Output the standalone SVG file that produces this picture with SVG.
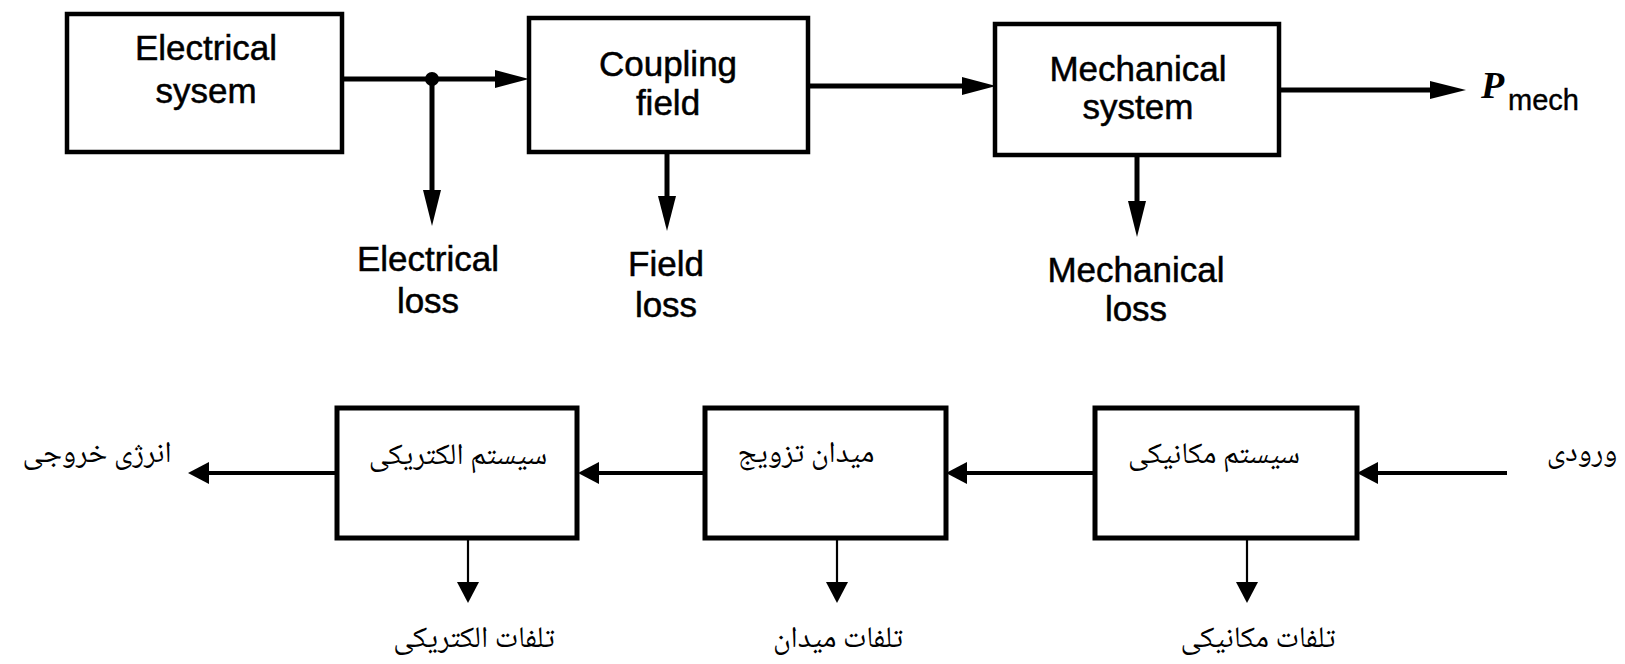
<svg xmlns="http://www.w3.org/2000/svg" width="1625" height="664" viewBox="0 0 1625 664">
<style>
.box{fill:#fff;stroke:#000;stroke-width:4.5}
.boxb{fill:#fff;stroke:#000;stroke-width:5}
.en{font-family:"Liberation Sans",Arial,sans-serif;font-size:35px;fill:#000;stroke:#000;stroke-width:0.5;text-anchor:middle}
.fa{font-family:"Noto Naskh Arabic","Noto Sans Arabic","DejaVu Sans",serif;font-size:30px;fill:#000;text-anchor:middle}
.wire{stroke:#000;stroke-width:5;fill:none}
.wireb{stroke:#000;stroke-width:4;fill:none}
.thin{stroke:#000;stroke-width:2.2;fill:none}
.head{fill:#000}
</style>
<rect width="1625" height="664" fill="#fff"/>
<g id="connectors">
  <line class="wire" x1="342" y1="79" x2="500" y2="79"/>
  <polygon class="head" points="529,79 495,70 495,88"/>
  <circle cx="432" cy="79" r="7"/>
  <line class="wire" x1="432" y1="79" x2="432" y2="195"/>
  <polygon class="head" points="432,226 423,190 441,190"/>
  <line class="wire" x1="808" y1="86" x2="966" y2="86"/>
  <polygon class="head" points="996,86 962,77 962,95"/>
  <line class="wire" x1="667" y1="152" x2="667" y2="200"/>
  <polygon class="head" points="667,231 658,196 676,196"/>
  <line class="wire" x1="1279" y1="90" x2="1435" y2="90"/>
  <polygon class="head" points="1466,90 1430,81 1430,99"/>
  <line class="wire" x1="1137" y1="155" x2="1137" y2="205"/>
  <polygon class="head" points="1137,237 1128,201 1146,201"/>
  <line class="wireb" x1="1507" y1="473" x2="1370" y2="473"/>
  <polygon class="head" points="1357,473 1378,462 1378,484"/>
  <line class="wireb" x1="1095" y1="473" x2="958" y2="473"/>
  <polygon class="head" points="946,473 967,462 967,484"/>
  <line class="wireb" x1="705" y1="473" x2="590" y2="473"/>
  <polygon class="head" points="578,473 599,462 599,484"/>
  <line class="wireb" x1="337" y1="473" x2="200" y2="473"/>
  <polygon class="head" points="188,473 209,462 209,484"/>
  <line class="thin" x1="468" y1="538" x2="468" y2="585"/>
  <polygon class="head" points="468,603 457,582 479,582"/>
  <line class="thin" x1="837" y1="538" x2="837" y2="585"/>
  <polygon class="head" points="837,603 826,582 848,582"/>
  <line class="thin" x1="1247" y1="538" x2="1247" y2="585"/>
  <polygon class="head" points="1247,603 1236,582 1258,582"/>
</g>
<g id="electrical-system">
  <rect class="box" x="67" y="14" width="275" height="138"/>
  <text class="en" x="206" y="60">Electrical</text>
  <text class="en" x="206" y="103">sysem</text>
</g>
<g id="coupling-field">
  <rect class="box" x="529" y="18" width="279" height="134"/>
  <text class="en" x="668" y="76">Coupling</text>
  <text class="en" x="668" y="115">field</text>
</g>
<g id="mechanical-system">
  <rect class="box" x="995" y="24" width="284" height="131"/>
  <text class="en" x="1138" y="81">Mechanical</text>
  <text class="en" x="1138" y="119">system</text>
</g>
<g id="electrical-loss">
  <text class="en" x="428" y="271">Electrical</text>
  <text class="en" x="428" y="313">loss</text>
</g>
<g id="field-loss">
  <text class="en" x="666" y="276">Field</text>
  <text class="en" x="666" y="317">loss</text>
</g>
<g id="mechanical-loss">
  <text class="en" x="1136" y="282">Mechanical</text>
  <text class="en" x="1136" y="321">loss</text>
</g>
<g id="p-mech">
  <text x="1481" y="98" font-family="Liberation Serif,serif" font-style="italic" font-weight="bold" font-size="38">P</text>
  <text x="1508" y="110" font-family="Liberation Sans,Arial,sans-serif" font-size="29" stroke="#000" stroke-width="0.4">mech</text>
</g>
<g id="fa-electrical-system">
  <rect class="boxb" x="337" y="408" width="240" height="130"/>
  <text class="fa" x="458" y="464">سیستم الکتریکی</text>
</g>
<g id="fa-coupling-field">
  <rect class="boxb" x="705" y="408" width="241" height="130"/>
  <text class="fa" x="806" y="462">میدان تزویج</text>
</g>
<g id="fa-mechanical-system">
  <rect class="boxb" x="1095" y="408" width="262" height="130"/>
  <text class="fa" x="1214" y="463">سیستم مکانیکی</text>
</g>
<g id="fa-output">
  <text class="fa" x="97" y="462" font-size="32">انرژی خروجی</text>
</g>
<g id="fa-input">
  <text class="fa" x="1582" y="461" font-size="32">ورودی</text>
</g>
<g id="fa-electrical-loss">
  <text class="fa" x="474" y="647">تلفات الکتریکی</text>
</g>
<g id="fa-field-loss">
  <text class="fa" x="838" y="647">تلفات میدان</text>
</g>
<g id="fa-mechanical-loss">
  <text class="fa" x="1258" y="647">تلفات مکانیکی</text>
</g>
</svg>
